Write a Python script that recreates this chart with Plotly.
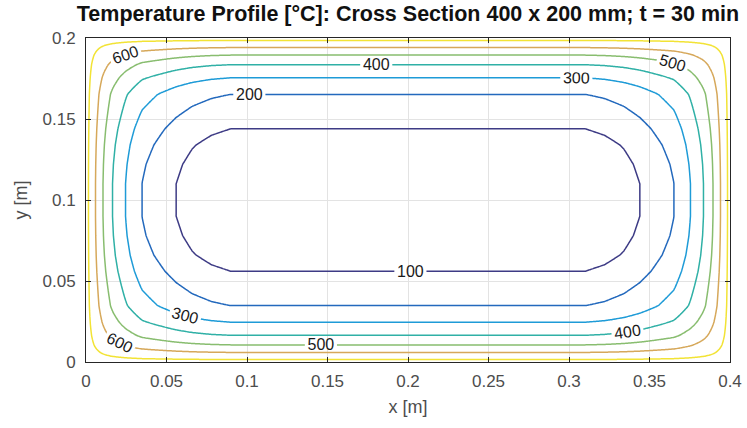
import numpy as np
import plotly.graph_objects as go

# ---- data ----
# contour levels (°C)
levels = [100, 200, 300, 400, 500, 600, 700]
level_colors = ["#3d3b85", "#2369bd", "#1e9bd7", "#2fb0a6", "#88bd6f", "#d6a85a", "#f2e335"]
# 1-D temperature profile measured from an exposed face inward (depth in m, temperature in °C)
depth_m = [0.0, 0.0015, 0.0059, 0.0105, 0.0164, 0.0245, 0.0347, 0.056, 0.066, 0.078, 0.09, 0.2]
temp_c = [740, 700, 600, 500, 400, 300, 200, 100, 64, 36, 20, 20]
# cross-section size (m)
width_m = 0.4
height_m = 0.2
x_ticks = [0, 0.05, 0.1, 0.15, 0.2, 0.25, 0.3, 0.35, 0.4]
x_tick_labels = ["0", "0.05", "0.1", "0.15", "0.2", "0.25", "0.3", "0.35", "0.4"]
y_ticks = [0, 0.05, 0.1, 0.15, 0.2]
y_tick_labels = ["0", "0.05", "0.1", "0.15", "0.2"]

# ---- build the 2-D field from the edge profile (product of 1-D solutions) ----
x = np.linspace(0, width_m, 401)
y = np.linspace(0, height_m, 201)
Ts, T0 = temp_c[0], temp_c[-1]


def theta(d):
    return (Ts - np.interp(d, depth_m, temp_c)) / (Ts - T0)


gx = theta(x) * theta(width_m - x)
gy = theta(y) * theta(height_m - y)
Z = Ts - (Ts - T0) * np.outer(gy, gx)

n = len(levels)
colorscale = [[i / (n - 1), c] for i, c in enumerate(level_colors)]

FONT = "Liberation Sans, Arial, sans-serif"

fig = go.Figure(
    go.Contour(
        x=x,
        y=y,
        z=Z,
        zmin=levels[0],
        zmax=levels[-1],
        autocontour=False,
        contours=dict(
            start=levels[0],
            end=levels[-1],
            size=levels[1] - levels[0],
            coloring="lines",
            showlabels=True,
            labelfont=dict(family=FONT, size=16, color="#1a1a1a"),
        ),
        colorscale=colorscale,
        line=dict(width=1.5),
        showscale=False,
        hoverinfo="skip",
    )
)

axis_common = dict(
    showline=True,
    linecolor="#262626",
    linewidth=1,
    mirror="ticks",
    ticks="inside",
    ticklen=5,
    tickcolor="#262626",
    showgrid=True,
    gridcolor="#e3e3e3",
    gridwidth=1,
    zeroline=False,
    automargin=False,
    tickfont=dict(family=FONT, size=17, color="#4d4d4d"),
)

fig.update_layout(
    width=747,
    height=428,
    margin=dict(l=86, r=17, t=38, b=66, autoexpand=False),
    paper_bgcolor="white",
    plot_bgcolor="white",
    title=dict(
        text="<b>Temperature Profile [°C]: Cross Section 400 x 200 mm; t = 30 min</b>",
        x=(86 + 730) / 2 / 747,
        xanchor="center",
        y=0.985,
        yanchor="top",
        font=dict(family=FONT, size=21.5, color="#111111"),
    ),
    xaxis=dict(
        range=[0, width_m],
        tickvals=x_ticks,
        ticktext=x_tick_labels,
        ticklabelstandoff=4,
        title=dict(text="x [m]", font=dict(family=FONT, size=18, color="#4d4d4d"), standoff=9),
        **axis_common,
    ),
    yaxis=dict(
        range=[0, height_m],
        tickvals=y_ticks,
        ticktext=y_tick_labels,
        ticklabelstandoff=6,
        title=dict(text="y [m]", font=dict(family=FONT, size=18, color="#4d4d4d"), standoff=10),
        **axis_common,
    ),
    showlegend=False,
)

fig.write_html(
    "out.html",
    config={"displayModeBar": False},
    post_script="document.body.style.margin='0';document.body.style.overflow='hidden';",
)
